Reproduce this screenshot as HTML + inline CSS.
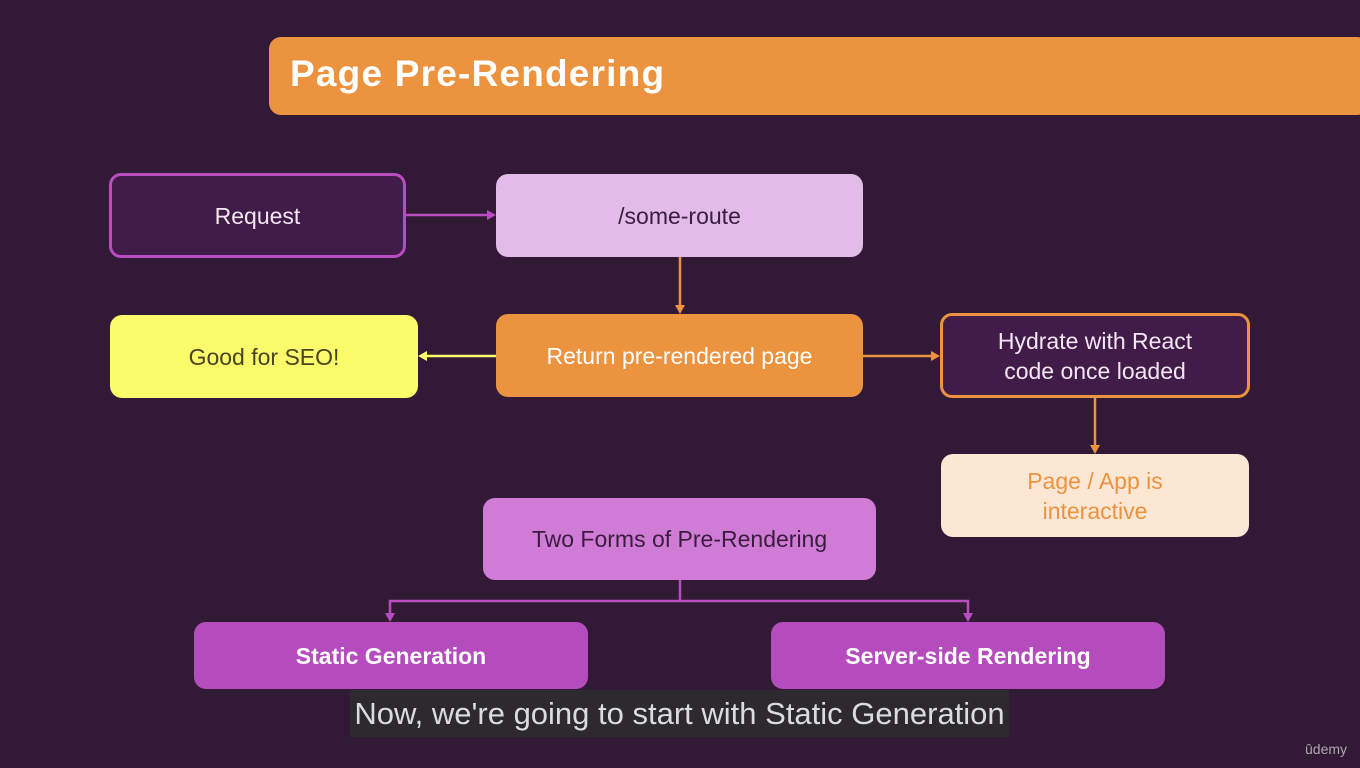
<!DOCTYPE html>
<html><head><style>
body{margin:0;width:1360px;height:768px;background:#32183a;overflow:hidden;position:relative;font-family:"Liberation Sans","DejaVu Sans",sans-serif;}
.b{position:absolute;box-sizing:border-box;display:flex;align-items:center;justify-content:center;text-align:center;border-radius:12px;font-size:23px;line-height:30px}
</style></head><body>
<div style="position:absolute;left:0;top:0;width:1360px;height:768px;background:#321936"></div>
<div style="position:absolute;left:269px;top:37px;width:1100px;height:78px;background:#ec9340;border-radius:12px"></div>
<div style="position:absolute;left:290px;top:53px;font-size:37px;font-weight:bold;color:#fff;letter-spacing:1.2px">Page Pre-Rendering</div>

<svg style="position:absolute;left:0;top:0" width="1360" height="768">
<g stroke-width="2.5" fill="none">
<line x1="406" y1="215" x2="488" y2="215" stroke="#b84cc0"/>
<line x1="680" y1="257" x2="680" y2="306" stroke="#ec9340"/>
<line x1="496" y1="356" x2="426" y2="356" stroke="#fafa6a"/>
<line x1="863" y1="356" x2="932" y2="356" stroke="#ec9340"/>
<line x1="1095" y1="398" x2="1095" y2="446" stroke="#ec9340"/>
<polyline points="680,580 680,601 390,601 390,614" stroke="#b84cc0"/>
<polyline points="680,601 968,601 968,614" stroke="#b84cc0"/>
</g>
<polygon points="496,215 487,210 487,220" fill="#b84cc0"/>
<polygon points="680,314 675,305 685,305" fill="#ec9340"/>
<polygon points="418,356 427,351 427,361" fill="#fafa6a"/>
<polygon points="940,356 931,351 931,361" fill="#ec9340"/>
<polygon points="1095,454 1090,445 1100,445" fill="#ec9340"/>
<polygon points="390,622 385,613 395,613" fill="#b84cc0"/>
<polygon points="968,622 963,613 973,613" fill="#b84cc0"/>
</svg>

<div class="b" style="left:109px;top:173px;width:297px;height:85px;background:#421c48;border:3px solid #b84cc0;color:#f3e6f3">Request</div>
<div class="b" style="left:496px;top:174px;width:367px;height:83px;background:#e2bbe9;color:#3a1d3e">/some-route</div>
<div class="b" style="left:110px;top:315px;width:308px;height:83px;background:#fafa6a;color:#4a4520">Good for SEO!</div>
<div class="b" style="left:496px;top:314px;width:367px;height:83px;background:#ec9340;color:#fff">Return pre-rendered page</div>
<div class="b" style="left:940px;top:313px;width:310px;height:85px;background:#421c48;border:3px solid #ec9340;color:#f3e6f3">Hydrate with React<br>code once loaded</div>
<div class="b" style="left:941px;top:454px;width:308px;height:83px;background:#fbe7d4;color:#ec9340">Page / App is<br>interactive</div>
<div class="b" style="left:483px;top:498px;width:393px;height:82px;background:#d07cd6;color:#3a1d3e">Two Forms of Pre-Rendering</div>
<div class="b" style="left:194px;top:622px;width:394px;height:67px;background:#b54cbd;color:#fff;font-weight:bold">Static Generation</div>
<div class="b" style="left:771px;top:622px;width:394px;height:67px;background:#b54cbd;color:#fff;font-weight:bold">Server-side Rendering</div>

<div style="position:absolute;left:350px;top:690px;width:659px;height:47px;background:#2c2a2e;color:#dcdcdc;font-size:31px;line-height:47px;text-align:center;letter-spacing:0px">Now, we're going to start with Static Generation</div>
<div style="position:absolute;left:1305px;top:741px;color:#aaa;font-size:14px">ûdemy</div>
</body></html>
